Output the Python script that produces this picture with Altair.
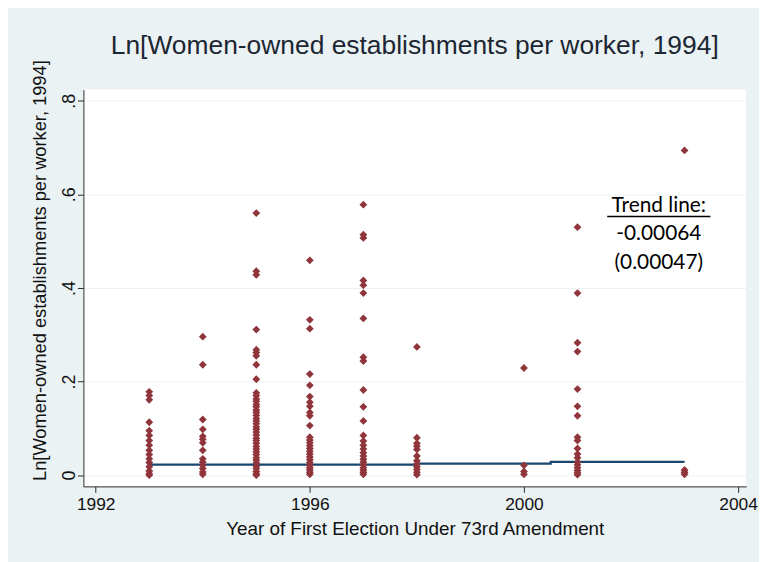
import altair as alt
import pandas as pd

# ---- data ----
years = [1993, 1994, 1995, 1996, 1997, 1998, 2000, 2001, 2003]
v1993 = [0.178, 0.170, 0.161, 0.113, 0.095, 0.085, 0.074, 0.064, 0.053, 0.044, 0.035, 0.027, 0.018, 0.009, 0.003, 0.0]
v1994 = [0.296, 0.236, 0.119, 0.098, 0.083, 0.077, 0.069, 0.053, 0.035, 0.028, 0.021, 0.014, 0.007, 0.002]
v1995 = [0.560, 0.436, 0.428, 0.311, 0.268, 0.262, 0.255, 0.236, 0.205, 0.176, 0.170, 0.163, 0.158, 0.151, 0.146,
         0.139, 0.134, 0.128, 0.121, 0.116, 0.110, 0.103, 0.098, 0.092, 0.086, 0.079, 0.074, 0.068, 0.061, 0.056,
         0.050, 0.044, 0.037, 0.032, 0.026, 0.019, 0.014, 0.008, 0.003, 0.0]
v1996 = [0.459, 0.332, 0.313, 0.216, 0.192, 0.168, 0.156, 0.147, 0.134, 0.127, 0.106, 0.081, 0.075, 0.069, 0.063,
         0.057, 0.051, 0.045, 0.039, 0.033, 0.027, 0.021, 0.016, 0.011, 0.006, 0.002]
v1997 = [0.578, 0.514, 0.507, 0.416, 0.406, 0.389, 0.335, 0.252, 0.244, 0.182, 0.146, 0.116, 0.085, 0.073, 0.064,
         0.056, 0.048, 0.041, 0.034, 0.028, 0.022, 0.016, 0.011, 0.006, 0.002]
v1998 = [0.274, 0.080, 0.068, 0.062, 0.055, 0.041, 0.031, 0.024, 0.018, 0.012, 0.006, 0.001]
v2000 = [0.229, 0.021, 0.008, 0.002]
v2001 = [0.530, 0.389, 0.283, 0.264, 0.184, 0.147, 0.127, 0.081, 0.074, 0.057, 0.045, 0.037, 0.028, 0.022, 0.016,
         0.010, 0.005, 0.001]
v2003 = [0.694, 0.011, 0.006, 0.002]
values_by_year = [v1993, v1994, v1995, v1996, v1997, v1998, v2000, v2001, v2003]

trend_year = [1993, 1998, 1998, 2000.5, 2000.5, 2003]
trend_value = [0.0227, 0.0227, 0.0248, 0.0248, 0.0284, 0.0284]

x_ticks = [1992, 1996, 2000, 2004]
y_ticks = [0, 0.2, 0.4, 0.6, 0.8]

title_text = "Ln[Women-owned establishments per worker, 1994]"
x_title = "Year of First Election Under 73rd Amendment"
y_title = "Ln[Women-owned establishments per worker, 1994]"
note_lines = ["Trend line:", "-0.00064", "(0.00047)"]

# ---- tables ----
rows = []
for yr, vals in zip(years, values_by_year):
    for v in vals:
        rows.append({"year": yr, "value": v})
pts = pd.DataFrame(rows)
trend = pd.DataFrame({"year": trend_year, "value": trend_value, "idx": list(range(len(trend_year)))})
one = pd.DataFrame({"k": [0]})

FONT = "Liberation Sans"
AX = "#2b2b2b"

x_scale = alt.Scale(domain=[1991.77, 2004.15], nice=False, zero=False)
y_scale = alt.Scale(domain=[-0.024, 0.824], nice=False, zero=False)

x_axis = alt.Axis(values=x_ticks, format="d", grid=False, tickSize=6, tickColor=AX, domainColor=AX,
                  labelFont=FONT, labelFontSize=17.5, labelColor="#111111", labelPadding=3,
                  labelFlush=False, labelOverlap=False,
                  title=x_title, titleFont=FONT, titleFontSize=19, titleFontWeight="normal",
                  titleColor="#111111", titleY=42, titleBaseline="middle")
y_axis = alt.Axis(values=y_ticks,
                  labelExpr="datum.value == 0 ? '0' : replace(format(datum.value, '.1f'), '0.', '.')",
                  grid=True, gridColor="#EAF2F3", gridWidth=1, tickSize=6, tickColor=AX, domainColor=AX,
                  labelFont=FONT, labelFontSize=18, labelColor="#111111", labelPadding=3,
                  labelAngle=270, labelAlign="center", labelBaseline="alphabetic",
                  labelFlush=False, labelOverlap=False,
                  title=y_title, titleFont=FONT, titleFontSize=18.4, titleFontWeight="normal",
                  titleColor="#111111", titleAngle=270, titleAlign="center", titleBaseline="alphabetic",
                  titleX=-38, titleY=182)

X = alt.X("year:Q", scale=x_scale, axis=x_axis)
Y = alt.Y("value:Q", scale=y_scale, axis=y_axis)

line = alt.Chart(trend).mark_line(color="#1A476F", strokeWidth=2.2).encode(
    x=X, y=Y, order=alt.Order("idx:Q"))

points = alt.Chart(pts).mark_point(shape="diamond", filled=True, size=62, color="#90353B", opacity=1).encode(
    x=X, y=Y)

title = alt.Chart(one).mark_text(text=title_text, font=FONT, fontSize=26.6, color="#1c2633",
                                 align="center", baseline="middle").encode(
    x=alt.value(334), y=alt.value(-44))

note = alt.Chart(one).mark_text(text=note_lines, font="Lato", fontSize=21, color="#000000",
                                align="center", baseline="middle", lineHeight=29).encode(
    x=alt.value(580), y=alt.value(117))

underline = alt.Chart(one).mark_rule(color="#000000", strokeWidth=1.4).encode(
    x=alt.value(528), x2=alt.value(632), y=alt.value(128))

chart = alt.layer(line, points, title, note, underline).properties(
    width=668, height=400,
    background="#EAF2F3",
    autosize="none",
    padding={"left": 76, "top": 80, "right": 13, "bottom": 74},
).configure_view(stroke=None, fill="white")

chart.save("out.html", embed_options={"renderer": "svg", "actions": False})
